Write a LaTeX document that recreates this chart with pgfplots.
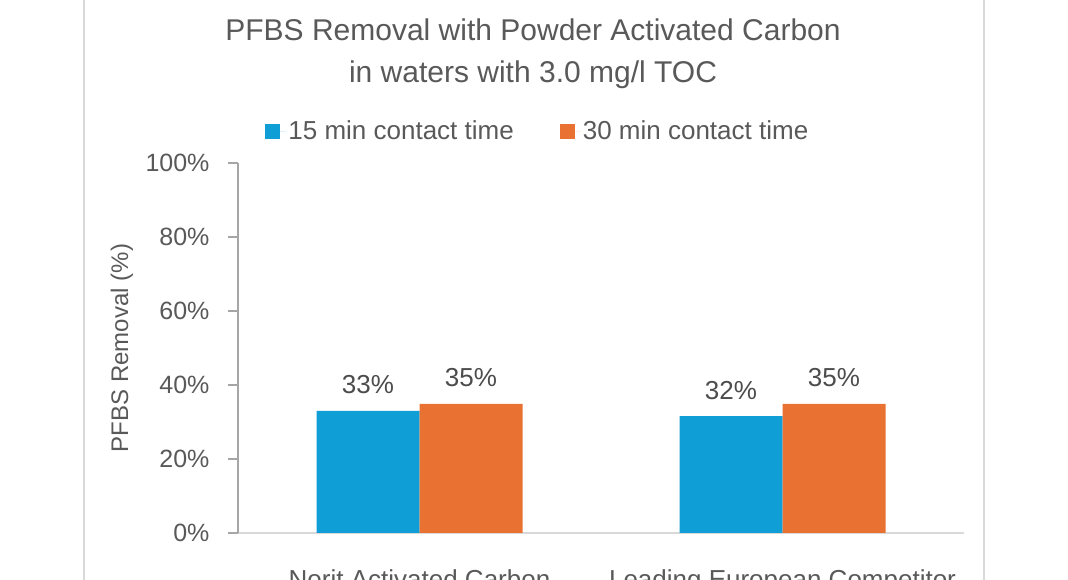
\documentclass[border=0pt]{standalone}
\usepackage{pgfplots}
\pgfplotsset{compat=1.18}
\usepackage{fontspec}
\setmainfont{Liberation Sans}
\definecolor{cblue}{HTML}{0F9ED5}
\definecolor{corange}{HTML}{E97132}
\definecolor{txt}{HTML}{595959}
\definecolor{yaxis}{HTML}{A6A6A6}
\definecolor{xaxis}{HTML}{D9D9D9}
\definecolor{frame}{HTML}{D9D9D9}
\begin{document}
\begin{tikzpicture}[x=1bp,y=1bp]
\path[use as bounding box] (0,0) rectangle (1068,580);
\clip (0,0) rectangle (1068,580);
\fill[white] (0,0) rectangle (1068,580);
\draw[frame, line width=1.5bp] (84,-5) -- (84,585);
\draw[frame, line width=1.5bp] (984,-5) -- (984,585);
\node[text=txt, font=\fontsize{30bp}{42bp}\selectfont, align=center] at (533,526)
  {PFBS Removal with Powder Activated Carbon\\in waters with 3.0 mg/l TOC};
\begin{axis}[
  at={(238bp,47bp)}, anchor=south west,
  scale only axis, width=726bp, height=370bp,
  ybar=0pt, bar width=103bp,
  enlargelimits=false,
  xmin=-0.5, xmax=1.5, ymin=0, ymax=100,
  clip=false,
  xtick={0,1},
  xticklabels={Norit Activated Carbon, Leading European Competitor},
  ytick={0,20,40,60,80,100},
  yticklabels={0\%,20\%,40\%,60\%,80\%,100\%},
  axis x line*=bottom, axis y line*=left,
  x axis line style={-, draw=xaxis, line width=1.5bp},
  y axis line style={-, draw=yaxis, line width=1.5bp},
  xtick style={draw=none},
  ytick style={draw=yaxis, line width=1.5bp},
  tick align=outside, major tick length=10bp,
  /pgf/number format/assume math mode=true,
  tick label style={text=txt},
  yticklabel style={font=\fontsize{25bp}{30bp}\selectfont, anchor=east, xshift=-15bp},
  xticklabel style={font=\fontsize{26bp}{30bp}\selectfont, anchor=base, yshift=-46bp},
  ylabel={PFBS Removal (\%)},
  ylabel style={at={(axis description cs:-0.160,0.5)}, anchor=center, text=txt, font=\fontsize{24bp}{28bp}\selectfont},
  nodes near coords={\pgfmathprintnumber[fixed,precision=0]{\pgfplotspointmeta}\%},
  every node near coord/.append style={text=black!70, font=\fontsize{26bp}{30bp}\selectfont, anchor=base, yshift=17bp},
  legend image code/.code={\fill[#1] (0bp,-7.5bp) rectangle (15bp,7.5bp); \path (0bp,0bp) -- (21bp,0bp);},
  legend style={at={(axis description cs:0.413,1.086)}, anchor=center, draw=none, fill=none,
    legend columns=2, text=txt, font=\fontsize{26bp}{30bp}\selectfont,
    /tikz/every even column/.append style={column sep=44bp}},
]
\addplot[fill=cblue, draw=none] coordinates {(0,33.0) (1,31.6)};
\addplot[fill=corange, draw=none] coordinates {(0,34.9) (1,34.9)};
\legend{15 min contact time, 30 min contact time}
\end{axis}
\end{tikzpicture}
\end{document}
